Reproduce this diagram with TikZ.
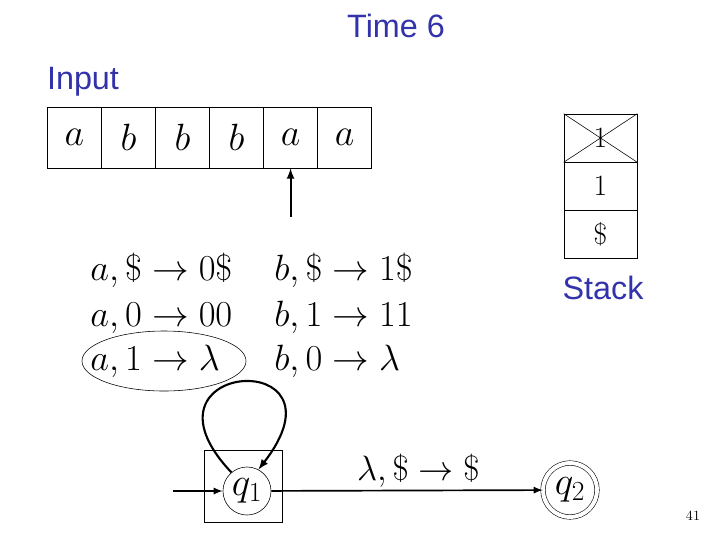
\RequirePackage{fix-cm}
\documentclass[tikz,border=0pt]{standalone}
\usepackage{fontspec}
\newfontfamily\slidefont{Liberation Sans}
\usetikzlibrary{shapes.geometric, arrows, positioning}
\definecolor{slideblue}{RGB}{50,50,170}

\tikzstyle{heading} = [
    text=slideblue,
    anchor=base,
    font=\slidefont\fontsize{23}{27}\selectfont
]
\tikzstyle{tapecell} = [
    rectangle,
    minimum width=1.35cm,
    minimum height=1.525cm,
    inner sep=0pt,
    draw=black,
    font=\fontsize{27}{30}\selectfont
]
\tikzstyle{stackcell} = [
    rectangle,
    minimum width=1.825cm,
    minimum height=1.2cm,
    inner sep=0pt,
    draw=black,
    font=\fontsize{21}{24}\selectfont
]
\tikzstyle{rule} = [
    anchor=base west,
    inner sep=0pt,
    font=\fontsize{26}{30}\selectfont
]
\tikzstyle{state} = [
    circle,
    minimum size=1.2cm,
    inner sep=0pt,
    draw=black,
    font=\fontsize{28}{32}\selectfont
]
\tikzstyle{accept} = [
    state,
    minimum size=1.35cm,
    double,
    double distance=0.1cm
]
\tikzstyle{arrow} = [line width=1.2pt,->,>=latex]

\begin{document}
\begin{tikzpicture}[x=0.025cm, y=-0.025cm, node distance=1.35cm]
\useasboundingbox (0,0) rectangle (720,540);

\node (time) [heading] at (396,37) {Time 6};
\node (input) [heading] at (83,89) {Input};

% input tape
\node (c1) [tapecell] at (74.5,137.5) {$a$};
\node (c2) [tapecell, right of=c1] {$b$};
\node (c3) [tapecell, right of=c2] {$b$};
\node (c4) [tapecell, right of=c3] {$b$};
\node (c5) [tapecell, right of=c4] {$a$};
\node (c6) [tapecell, right of=c5] {$a$};

\coordinate (head) at (c5.south |- 0,217);
\draw [arrow, line width=1.5pt] (head) -- (c5.south);

% stack
\node (s1) [stackcell] at (600.5,138) {1};
\node (s2) [stackcell, below of=s1, node distance=1.2cm] {1};
\node (s3) [stackcell, below of=s2, node distance=1.2cm] {\$};
\draw (s1.north west) -- (s1.south east);
\draw (s1.north east) -- (s1.south west);
\node (stack) [heading] at (603,299) {Stack};

% transitions
\node (ra1) [rule] at (90,280) {$a,\$\rightarrow 0\$$};
\node (ra2) [rule] at (90,326) {$a,0\rightarrow 00$};
\node (ra3) [rule] at (90,370) {$a,1\rightarrow \lambda$};
\node (rb1) [rule] at (274,280) {$b,\$\rightarrow 1\$$};
\node (rb2) [rule] at (274,326) {$b,1\rightarrow 11$};
\node (rb3) [rule] at (274,370) {$b,0\rightarrow \lambda$};

\node (pick) [ellipse, draw=black, minimum width=4.1cm, minimum height=1.5cm] at (164,361) {};

% automaton
\node (q1) [state] at (247,491) {$q_1$};
\node (q2) [accept] at (570,490) {$q_2$};
\node (now) [rectangle, draw=black, minimum width=1.95cm, minimum height=1.8cm] at (243,486) {};

\coordinate (init) at (173,491);
\draw [arrow] (init) -- (q1);
\draw [arrow] (q1) -- node[above=-2pt, xshift=8pt, font=\fontsize{25}{28}\selectfont] {$\lambda,\$\rightarrow\$$} (q2);
\draw [arrow, line width=1.5pt] (q1.130) .. controls (125,360) and (355,345) .. (q1.62);

\node (page) [font=\fontsize{10}{12}\selectfont] at (693,516) {41};

\end{tikzpicture}
\end{document}
